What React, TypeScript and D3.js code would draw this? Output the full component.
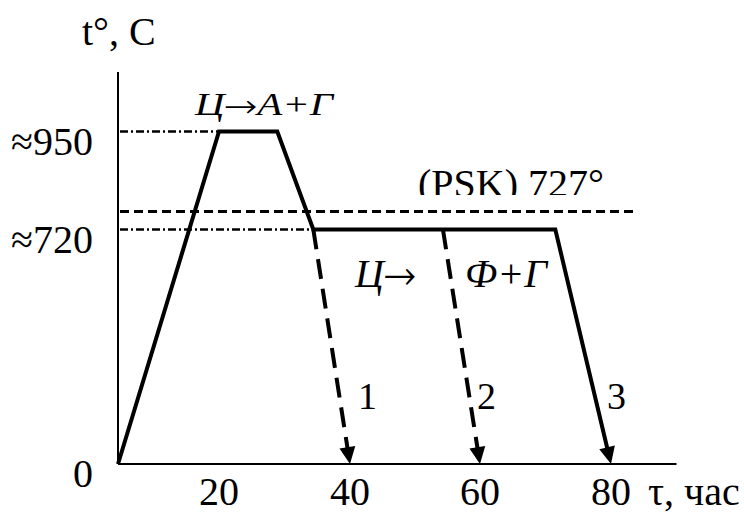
import React from 'react';
import * as d3 from 'd3';

// heat treatment schedule (schematic): time in hours, temperature in °C
const mainTime = [0, 20, 28.9, 34.4, 71.5, 80];
const mainTemp = [0, 950, 950, 720, 720, 0];

// dashed cooling branches leaving the 720° hold
const branchStart = [34.4, 54.3];
const branchEnd = [40, 60];
const curveLabels = ['1', '2', '3'];

const xTicks = [20, 40, 60, 80];
const yTicks = [0, 720, 950];
const yTickLabels = ['0', '≈720', '≈950'];

const pskTemp = 727;
const pskEnd = 83.7;
const axisEnd = 90;

const W = 744;
const H = 515;
const serif = { fontFamily: 'Liberation Serif' };
const arrowFont = { fontFamily: 'FreeSerif' };

export default function App() {
  // the drawing is schematic, so the scales are piecewise
  const x = d3.scaleLinear().domain([0, 20, 40, 60, 80]).range([118, 219, 350, 480, 611]);
  const y = d3.scaleLinear().domain([0, 720, 727, 950]).range([464, 229.5, 211.5, 131.5]);

  const line = d3
    .line<[number, number]>()
    .x((d) => x(d[0]))
    .y((d) => y(d[1]));

  const mainPts: [number, number][] = mainTime.map((t, i) => [t, mainTemp[i]]);

  // arrow head at (x1,y1) pointing along the segment from (x0,y0)
  function head(x0: number, y0: number, x1: number, y1: number) {
    const a = Math.atan2(y1 - y0, x1 - x0);
    const len = 17;
    const hw = 8;
    const bx = x1 - len * Math.cos(a);
    const by = y1 - len * Math.sin(a);
    const px = -Math.sin(a) * hw;
    const py = Math.cos(a) * hw;
    return `M${x1},${y1}L${bx + px},${by + py}L${bx - px},${by - py}Z`;
  }

  // pull the end of a line back so the stroke doesn't poke through the head
  function shorten(x0: number, y0: number, x1: number, y1: number, d: number) {
    const a = Math.atan2(y1 - y0, x1 - x0);
    return [x1 - d * Math.cos(a), y1 - d * Math.sin(a)];
  }

  const last = mainPts.length - 1;
  const m0x = x(mainPts[last - 1][0]);
  const m0y = y(mainPts[last - 1][1]);
  const m1x = x(mainPts[last][0]);
  const m1y = y(mainPts[last][1]);
  const mEnd = shorten(m0x, m0y, m1x, m1y, 10);

  const y0 = y(0);

  return (
    <svg
      width={W}
      height={H}
      style={{ position: 'absolute', left: 0, top: 0, background: '#fff', ...serif }}
    >
      <defs>
        <clipPath id="psk-clip">
          <rect x={0} y={0} width={W} height={195} />
        </clipPath>
      </defs>

      {/* axes */}
      <line x1={x(0)} y1={72} x2={x(0)} y2={y0} stroke="#000" strokeWidth={2} />
      <line x1={x(0)} y1={y0} x2={x(axisEnd)} y2={y0} stroke="#000" strokeWidth={2} />

      {/* reference lines */}
      <line x1={x(0) + 2} y1={y(950)} x2={x(20)} y2={y(950)} stroke="#000" strokeWidth={2.5} strokeDasharray="8,3,2,3" />
      <line x1={x(0) + 2} y1={y(720)} x2={x(40)} y2={y(720)} stroke="#000" strokeWidth={2.5} strokeDasharray="8,3,2,3" />
      <line x1={x(0) + 2} y1={y(pskTemp)} x2={x(pskEnd)} y2={y(pskTemp)} stroke="#000" strokeWidth={3} strokeDasharray="9,5" />

      {/* main schedule (curve 3) */}
      <path
        d={line(mainPts.slice(0, last)) + `L${mEnd[0]},${mEnd[1]}`}
        fill="none"
        stroke="#000"
        strokeWidth={4}
      />
      <path d={head(m0x, m0y, m1x, m1y)} fill="#000" />

      {/* dashed cooling branches 1 and 2 */}
      {branchStart.map((s, i) => {
        const ax = x(s);
        const ay = y(720);
        const bx = x(branchEnd[i]);
        const e = shorten(ax, ay, bx, y0, 12);
        return (
          <g key={i}>
            <line x1={ax} y1={ay} x2={e[0]} y2={e[1]} stroke="#000" strokeWidth={4} strokeDasharray="20,10" />
            <path d={head(ax, ay, bx, y0)} fill="#000" />
          </g>
        );
      })}

      {/* curve numbers */}
      {[358, 477, 607].map((lx, i) => (
        <text key={i} x={lx} y={409} fontSize={38} style={serif}>
          {curveLabels[i]}
        </text>
      ))}

      {/* tick labels */}
      {xTicks.map((t) => (
        <text key={t} x={x(t)} y={505} fontSize={40} textAnchor="middle" style={serif}>
          {t}
        </text>
      ))}
      {yTicks.map((t, i) => (
        <text key={t} x={93} y={y(t) + 23} fontSize={40} textAnchor="end" style={serif}>
          {yTickLabels[i]}
        </text>
      ))}

      {/* axis titles */}
      <text x={82} y={45} fontSize={40} style={serif}>t°, C</text>
      <text x={648} y={505} fontSize={40} style={serif}>τ, час</text>

      {/* annotations */}
      <text x={195} y={115} fontSize={31} fontStyle="italic" textLength={138} lengthAdjust="spacingAndGlyphs" style={serif}>
        Ц<tspan style={arrowFont} fontStyle="normal">→</tspan>А+Г
      </text>
      <text x={418} y={197} fontSize={40} clipPath="url(#psk-clip)" style={serif}>(PSK) 727°</text>
      <text x={355} y={287} fontSize={40} fontStyle="italic" style={serif}>
        Ц<tspan style={arrowFont} fontStyle="normal">→</tspan>
      </text>
      <text x={465} y={287} fontSize={40} fontStyle="italic" style={serif}>Ф+Г</text>
    </svg>
  );
}
